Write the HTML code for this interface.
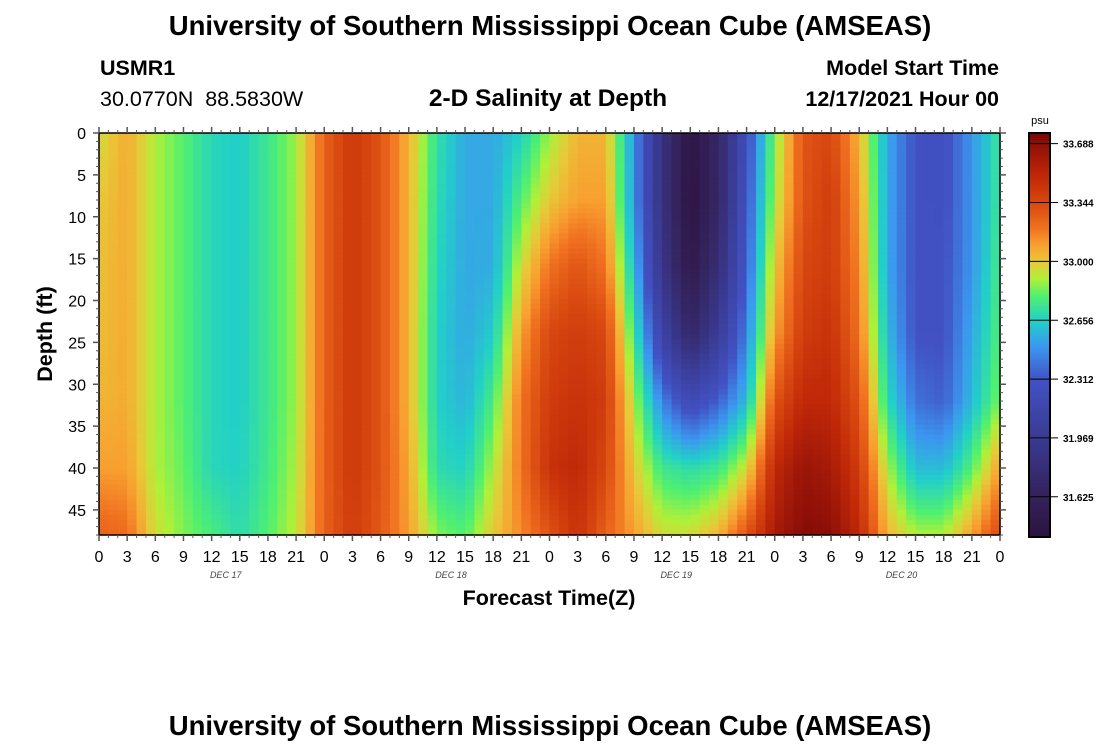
<!DOCTYPE html>
<html><head><meta charset="utf-8">
<style>
body{margin:0;background:#fff;width:1100px;height:750px;overflow:hidden;font-family:"Liberation Sans",sans-serif;}
svg text{font-family:"Liberation Sans",sans-serif;white-space:pre;}
</style></head>
<body>
<svg id="chart" width="1100" height="750" xmlns="http://www.w3.org/2000/svg">
<text x="550" y="35" text-anchor="middle" font-size="27.5" font-weight="bold">University of Southern Mississippi Ocean Cube (AMSEAS)</text>
<text x="100" y="75" font-size="21.5" font-weight="bold">USMR1</text>
<text x="100" y="106" font-size="21.5" xml:space="preserve">30.0770N  88.5830W</text>
<text x="548" y="106" text-anchor="middle" font-size="24.5" font-weight="bold">2-D Salinity at Depth</text>
<text x="999" y="75" text-anchor="end" font-size="21.5" font-weight="bold">Model Start Time</text>
<text x="999" y="106" text-anchor="end" font-size="21.5" font-weight="bold">12/17/2021 Hour 00</text>
<g id="cells"></g>
<g id="axes"></g>
<text transform="translate(52,334) rotate(-90)" text-anchor="middle" font-size="21.5" font-weight="bold">Depth (ft)</text>
<text x="549" y="605" text-anchor="middle" font-size="21.5" font-weight="bold">Forecast Time(Z)</text>
<g id="cbar"></g>
<text x="1040" y="124" text-anchor="middle" font-size="11">psu</text>
<text x="550" y="735" text-anchor="middle" font-size="27.5" font-weight="bold">University of Southern Mississippi Ocean Cube (AMSEAS)</text>
</svg>
<script>
// data
const hours = [0,3,6,9,12,15,18,21,24,27,30,33,36,39,42,45,48,51,54,57,60,63,66,69,72,75,78,81,84,87,90,93,96];
const depths = [0,8,16,24,32,40,48];
const salinity = [
[32.95,33.0,33.02,33.03,33.05,33.1,33.25],
[33.07,33.07,33.07,33.07,33.07,33.1,33.22],
[32.9,32.9,32.9,32.9,32.9,32.9,32.95],
[32.8,32.8,32.8,32.8,32.8,32.82,32.85],
[32.68,32.68,32.68,32.68,32.68,32.68,32.78],
[32.65,32.65,32.65,32.65,32.65,32.66,32.7],
[32.75,32.75,32.75,32.75,32.75,32.76,32.8],
[32.88,32.88,32.88,32.88,32.88,32.9,32.92],
[33.25,33.25,33.25,33.25,33.25,33.25,33.25],
[33.42,33.42,33.42,33.42,33.42,33.42,33.4],
[33.3,33.3,33.3,33.3,33.3,33.3,33.28],
[33.05,33.05,33.05,33.05,33.05,33.08,33.1],
[32.72,32.7,32.68,32.66,32.66,32.7,32.85],
[32.55,32.55,32.55,32.55,32.58,32.66,32.8],
[32.55,32.55,32.56,32.65,32.78,32.9,33.0],
[32.66,32.8,32.95,33.1,33.2,33.2,33.15],
[32.88,33.0,33.2,33.35,33.4,33.45,33.3],
[33.05,33.1,33.3,33.4,33.45,33.5,33.45],
[33.05,33.1,33.2,33.35,33.4,33.35,33.25],
[32.5,32.5,32.6,32.75,32.9,33.0,33.1],
[31.85,31.85,31.9,32.1,32.45,32.75,32.95],
[31.45,31.42,31.5,31.7,32.2,32.7,32.95],
[31.7,31.7,31.8,32.0,32.35,32.75,33.05],
[32.25,32.3,32.35,32.45,32.6,32.95,33.3],
[32.85,32.9,33.0,33.1,33.3,33.5,33.6],
[33.3,33.3,33.35,33.4,33.5,33.65,33.72],
[33.35,33.4,33.4,33.45,33.5,33.6,33.7],
[33.05,33.1,33.15,33.2,33.3,33.4,33.5],
[32.55,32.55,32.55,32.6,32.7,32.9,33.05],
[32.3,32.3,32.3,32.3,32.4,32.6,32.9],
[32.28,32.28,32.3,32.3,32.35,32.6,32.9],
[32.5,32.5,32.5,32.55,32.6,32.8,33.1],
[32.75,32.75,32.78,32.8,32.85,33.1,33.35]
];
const xTickLabels = ["0","3","6","9","12","15","18","21","0","3","6","9","12","15","18","21","0","3","6","9","12","15","18","21","0","3","6","9","12","15","18","21","0"];
const dayLabels = ["DEC 17","DEC 18","DEC 19","DEC 20"];
const yTicks = [0,5,10,15,20,25,30,35,40,45];
const cbarTicks = [33.688,33.344,33.000,32.656,32.312,31.969,31.625];

const NS="http://www.w3.org/2000/svg";
const X0=99,X1=1000,Y0=133,Y1=535,TMAX=96,DMAX=48;
const xs=h=>X0+(X1-X0)*h/TMAX;
const ys=d=>Y0+(Y1-Y0)*d/DMAX;
const stops=[[31.39,"#2c1240"],[31.625,"#34225a"],[31.969,"#3a3a92"],[32.312,"#4252c4"],[32.5,"#3c96f0"],[32.656,"#22d0c8"],[32.8,"#50f070"],[32.9,"#b0f038"],[33.0,"#e8c838"],[33.1,"#f8a030"],[33.2,"#f07020"],[33.344,"#d84810"],[33.5,"#c02808"],[33.688,"#901008"],[33.75,"#780800"]];
function hex(c){return [1,3,5].map(i=>parseInt(c.substr(i,2),16));}
function cmap(v){
 if(v<=stops[0][0])return stops[0][1];
 for(let i=1;i<stops.length;i++){if(v<=stops[i][0]){const a=hex(stops[i-1][1]),b=hex(stops[i][1]);const t=(v-stops[i-1][0])/(stops[i][0]-stops[i-1][0]);return "rgb("+a.map((x,k)=>Math.round(x+(b[k]-x)*t)).join(",")+")";}}
 return stops[stops.length-1][1];
}
const cs=(v)=>{const lo=31.39,hi=33.75;return 537-(v-lo)/(hi-lo)*(537-133);};
function mk(tag,attrs,parent){const e=document.createElementNS(NS,tag);for(const k in attrs)e.setAttribute(k,attrs[k]);parent.appendChild(e);return e;}
function val(h,d){
 let i=0;while(i<hours.length-2&&h>hours[i+1])i++;
 let j=0;while(j<depths.length-2&&d>depths[j+1])j++;
 const tx=(h-hours[i])/(hours[i+1]-hours[i]),ty=(d-depths[j])/(depths[j+1]-depths[j]);
 const a=salinity[i][j]*(1-ty)+salinity[i][j+1]*ty,b=salinity[i+1][j]*(1-ty)+salinity[i+1][j+1]*ty;
 return a*(1-tx)+b*tx;
}
const cells=document.getElementById('cells');
const NX=96,NY=80;
for(let a=0;a<NX;a++){for(let b=0;b<NY;b++){
 const h0=TMAX*a/NX,h1=TMAX*(a+1)/NX,d0=DMAX*b/NY,d1=DMAX*(b+1)/NY;
 const r=mk('rect',{x:xs(h0).toFixed(2),y:ys(d0).toFixed(2),width:(xs(h1)-xs(h0)+0.6).toFixed(2),height:(ys(d1)-ys(d0)+0.6).toFixed(2),fill:cmap(val((h0+h1)/2,(d0+d1)/2))},cells);
 
 
}}
const ax=document.getElementById('axes');
mk('rect',{x:X0,y:Y0,width:X1-X0,height:Y1-Y0,fill:"none",stroke:"#000","stroke-width":1.5},ax);
for(let h=0;h<=TMAX;h++){const x=xs(h);const maj=h%3===0;
 mk('line',{x1:x,x2:x,y1:Y1,y2:Y1+(maj?6:3),stroke:"#555","stroke-width":maj?1.5:1},ax);
 mk('line',{x1:x,x2:x,y1:Y0,y2:Y0-(maj?6:3),stroke:"#555","stroke-width":maj?1.5:1},ax);}
xTickLabels.forEach((l,i)=>{const t=mk('text',{x:xs(i*3),y:562,"text-anchor":"middle","font-size":16},ax);t.textContent=l;
 
 });
dayLabels.forEach((l,i)=>{const t=mk('text',{x:xs(i*24+13.5),y:578,"text-anchor":"middle","font-size":9,"font-style":"italic","font-family":"Liberation Mono, monospace",fill:"#444"},ax);t.textContent=l;
 
 });
for(let d=0;d<=DMAX;d++){const y=ys(d);const maj=d%5===0;
 mk('line',{x1:X0,x2:X0-(maj?6:3),y1:y,y2:y,stroke:"#555","stroke-width":maj?1.5:1},ax);
 mk('line',{x1:X1,x2:X1+(maj?6:3),y1:y,y2:y,stroke:"#555","stroke-width":maj?1.5:1},ax);}
yTicks.forEach(d=>{const t=mk('text',{x:86,y:ys(d)+6,"text-anchor":"end","font-size":16},ax);t.textContent=d;
 
 });
const cb=document.getElementById('cbar');
for(let k=0;k<200;k++){const v0=31.39+(33.75-31.39)*k/200,v1=31.39+(33.75-31.39)*(k+1)/200;
 const r=mk('rect',{x:1029,y:cs(v1),width:21,height:cs(v0)-cs(v1)+0.5,fill:cmap((v0+v1)/2)},cb);
 
 }
mk('rect',{x:1029,y:133,width:21,height:404,fill:"none",stroke:"#000","stroke-width":2},cb);
cbarTicks.forEach(v=>{const y=cs(v);mk('line',{x1:1029,x2:1058,y1:y,y2:y,stroke:"#000","stroke-width":1},cb);
 const t=mk('text',{x:1063,y:y+4,"font-size":10,"font-weight":"bold"},cb);t.textContent=v.toFixed(3);
 
 });
</script>
</body></html>
